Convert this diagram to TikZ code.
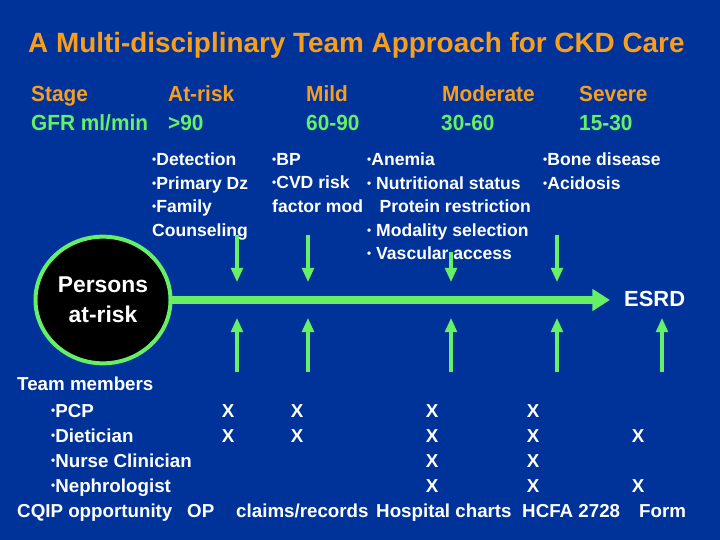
\documentclass[tikz,border=0pt]{standalone}
\usepackage{fontspec}
\setmainfont{Liberation Sans}
\newfontfamily\narrowfont{Liberation Sans}[FakeStretch=0.95]
\usetikzlibrary{arrows.meta,shapes.geometric}
\definecolor{slideblue}{RGB}{0,51,153}
\definecolor{ckdorange}{RGB}{248,158,28}
\definecolor{ckdgreen}{RGB}{102,240,102}
\newcommand{\itm}{\raisebox{0.12em}{\fontsize{10}{10}\selectfont\textbullet}}
\tikzset{
  body/.style={anchor=north west, inner sep=0pt, text=white, align=left,
    font=\bfseries\fontsize{15}{20}\selectfont},
  stagehead/.style={anchor=base west, inner sep=0pt, text=ckdorange,
    font=\narrowfont\bfseries\fontsize{18.7}{22}\selectfont},
  gfrhead/.style={stagehead, text=ckdgreen},
  team/.style={anchor=base west, inner sep=0pt, text=white,
    font=\bfseries\fontsize{16}{18}\selectfont},
  xmark/.style={team, anchor=base},
  pointer/.style={ckdgreen, line width=2.6pt, -{Triangle[width=10pt,length=12pt]}},
}
\begin{document}
\begin{tikzpicture}[x=0.03cm, y=-0.03cm]
\fill[slideblue] (0,0) rectangle (720,540);

\node[anchor=base west, inner sep=0pt, text=ckdorange, font=\bfseries\fontsize{23.8}{28}\selectfont]
  (title) at (28,53) {A Multi-disciplinary Team Approach for CKD Care};

\node[stagehead] (stage) at (31,102) {Stage};
\node[stagehead] (atrisk) at (168,102) {At-risk};
\node[stagehead] (mild) at (306,102) {Mild};
\node[stagehead] (moderate) at (442,102) {Moderate};
\node[stagehead] (severe) at (579,102) {Severe};
\node[gfrhead] (gfr) at (31,131) {GFR ml/min};
\node[gfrhead] (g90) at (168,131) {>90};
\node[gfrhead] (g6090) at (306,131) {60-90};
\node[gfrhead] (g3060) at (441,131) {30-60};
\node[gfrhead] (g1530) at (579,131) {15-30};

\node[body] (atriskcare) at (152,153) {\itm Detection\\ \itm Primary Dz\\ \itm Family\\ Counseling};
\node[body] (mildcare) at (272,153) {\itm BP\\ \itm CVD risk\\ factor mod};
\node[body] (modcare) at (367,153) {\itm Anemia\\ \itm\ Nutritional status\\ \hspace*{0.7em}Protein restriction\\ \itm\ Modality selection\\ \itm\ Vascular access};
\node[body] (sevcare) at (543,153) {\itm Bone disease\\ \itm Acidosis};

\node[ellipse, draw=ckdgreen, line width=3.4pt, fill=black, inner sep=0pt,
  minimum width=4.05cm, minimum height=3.8cm,
  text=white, align=center, font=\bfseries\fontsize{19.5}{25.6}\selectfont] (persons) at (103,300) {Persons\\at-risk};
\node[anchor=base west, inner sep=0pt, text=white, font=\bfseries\fontsize{18.7}{22}\selectfont]
  (esrd) at (624,307) {ESRD};
\draw[ckdgreen, line width=6pt, -{Triangle[width=18pt,length=15pt]}, shorten >=12pt]
  (persons) -- (persons -| esrd.west);

\coordinate (d1) at (237,235); \coordinate (d1e) at (237,282);
\coordinate (d2) at (308,235); \coordinate (d2e) at (308,282);
\coordinate (d3) at (451,252); \coordinate (d3e) at (451,282);
\coordinate (d4) at (557,235); \coordinate (d4e) at (557,282);
\draw[pointer] (d1) -- (d1e);
\draw[pointer] (d2) -- (d2e);
\draw[pointer] (d3) -- (d3e);
\draw[pointer] (d4) -- (d4e);

\coordinate (u1) at (237,372); \coordinate (u1e) at (237,318);
\coordinate (u2) at (308,372); \coordinate (u2e) at (308,318);
\coordinate (u3) at (451,372); \coordinate (u3e) at (451,318);
\coordinate (u4) at (557,372); \coordinate (u4e) at (557,318);
\coordinate (u5) at (662,372); \coordinate (u5e) at (662,318);
\draw[pointer] (u1) -- (u1e);
\draw[pointer] (u2) -- (u2e);
\draw[pointer] (u3) -- (u3e);
\draw[pointer] (u4) -- (u4e);
\draw[pointer] (u5) -- (u5e);

\node[team] (members) at (17,391) {Team members};
\node[team] (pcp) at (51,417) {\itm PCP};
\node[team] (diet) at (51,442) {\itm Dietician};
\node[team] (nurse) at (51,467) {\itm Nurse Clinician};
\node[team] (neph) at (51,492) {\itm Nephrologist};

\node[xmark] (pcp1) at (228,417) {X};
\node[xmark] (pcp2) at (297,417) {X};
\node[xmark] (pcp3) at (432,417) {X};
\node[xmark] (pcp4) at (533,417) {X};
\node[xmark] (diet1) at (228,442) {X};
\node[xmark] (diet2) at (297,442) {X};
\node[xmark] (diet3) at (432,442) {X};
\node[xmark] (diet4) at (533,442) {X};
\node[xmark] (diet5) at (638,442) {X};
\node[xmark] (nurse3) at (432,467) {X};
\node[xmark] (nurse4) at (533,467) {X};
\node[xmark] (neph3) at (432,492) {X};
\node[xmark] (neph4) at (533,492) {X};
\node[xmark] (neph5) at (638,492) {X};

\node[team] (cqip) at (17,517) {CQIP opportunity};
\node[team] (op) at (187,517) {OP};
\node[team] (claims) at (236,517) {claims/records};
\node[team] (hosp) at (376,517) {Hospital charts};
\node[team] (hcfa) at (522,517) {HCFA 2728};
\node[team] (form) at (639,517) {Form};
\end{tikzpicture}
\end{document}
